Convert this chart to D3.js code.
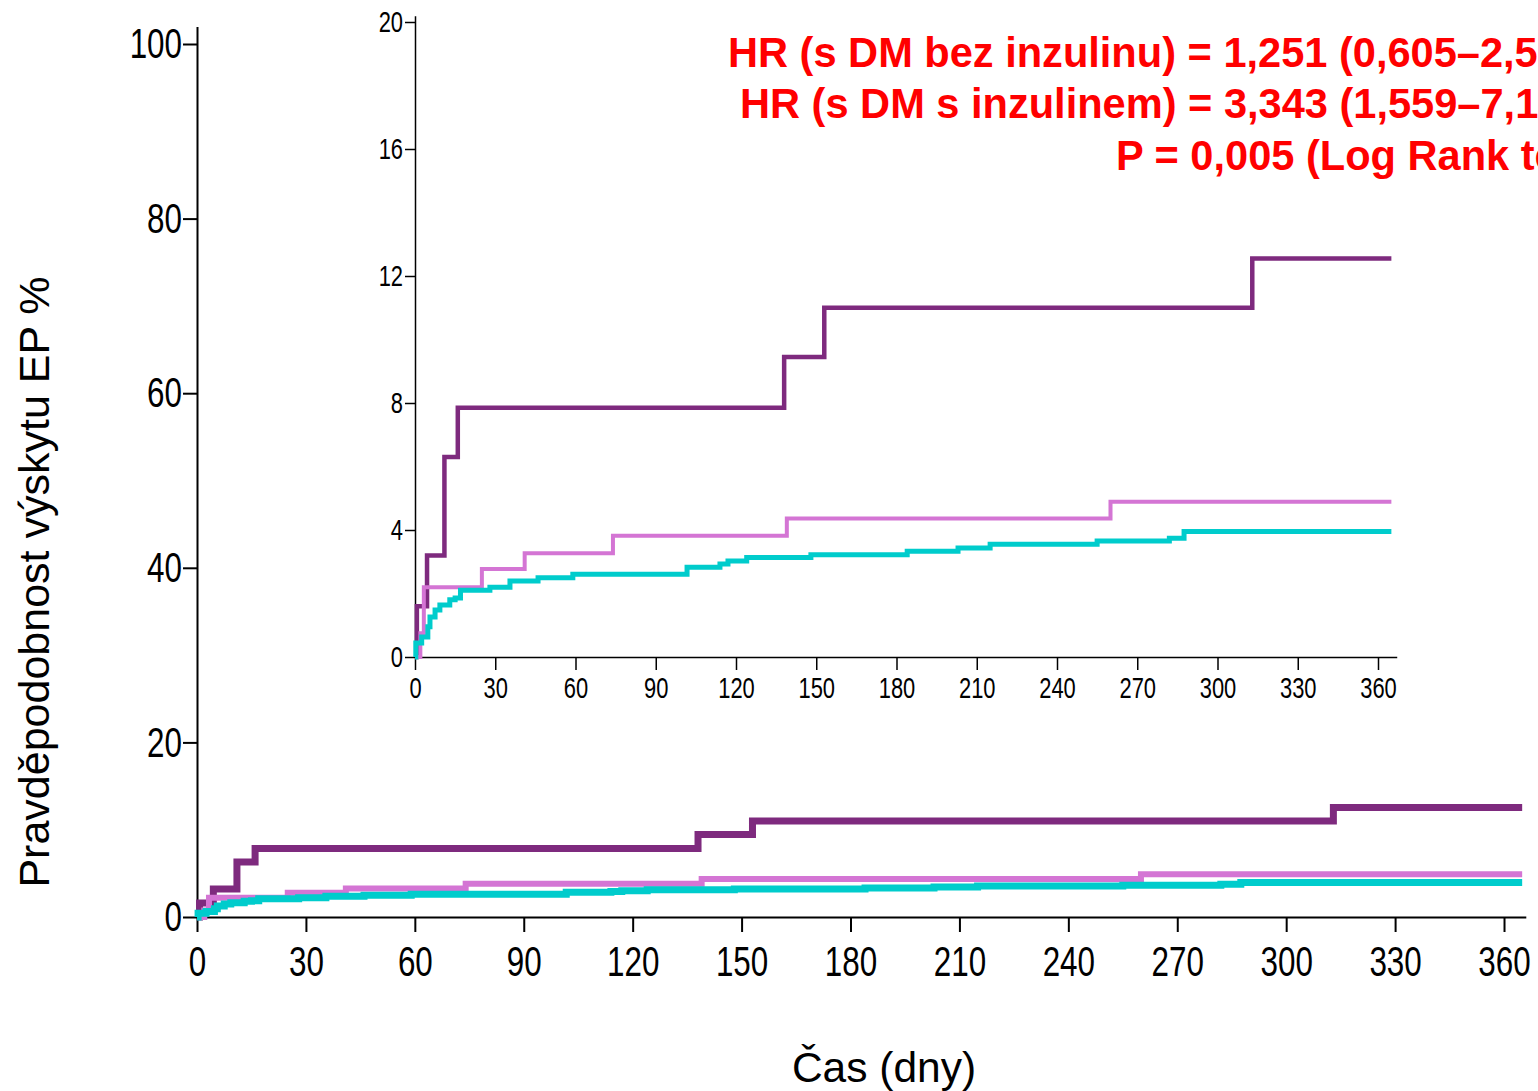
<!DOCTYPE html>
<html>
<head>
<meta charset="utf-8">
<script src="https://cdn.jsdelivr.net/npm/d3@7"></script>
<style>
  body { margin: 0; background: #fff; }
  svg { display: block; }
  text { font-family: "Liberation Sans", Arial, sans-serif; }
</style>
</head>
<body>
<div id="vis_canvas"></div>
<script>
// data (cumulative incidence in %, step after each day)
var dayTicks = [0, 30, 60, 90, 120, 150, 180, 210, 240, 270, 300, 330, 360];
var mainYTicks = [0, 20, 40, 60, 80, 100];
var insetYTicks = [0, 4, 8, 12, 16, 20];

// DM s inzulinem (dark purple)
var insDays   = [0, 0.7, 4.5, 11, 16, 138, 153, 313, 365];
var insValues = [0, 1.6, 3.2, 6.3, 7.85, 9.45, 11.0, 12.55, 12.55];

// DM bez inzulinu (pink)
var nonInsDays   = [0, 2, 3.3, 25, 41, 74, 139, 260, 365];
var nonInsValues = [0, 0.75, 2.2, 2.77, 3.27, 3.82, 4.36, 4.89, 4.89];

// bez DM (teal)
var noDmDays   = [0, 0.3, 2.5, 4.8, 5.6, 7.5, 9.3, 13, 15, 17, 28, 35.5, 46, 59, 101.7, 114, 117, 124, 148, 184, 203, 215, 255, 282, 287.5, 365];
var noDmValues = [0, 0.44, 0.63, 0.95, 1.26, 1.48, 1.64, 1.8, 1.86, 2.1, 2.2, 2.39, 2.5, 2.61, 2.83, 2.93, 3.02, 3.13, 3.22, 3.33, 3.43, 3.55, 3.65, 3.74, 3.95, 3.95];

var hrLines = [
  "HR (s DM bez inzulinu) = 1,251 (0,605\u20132,587)",
  "HR (s DM s inzulinem) = 3,343 (1,559\u20137,168)",
  "P = 0,005 (Log Rank test)"
];

function pairs(days, vals) {
  return days.map(function(d, i) { return {day: d, v: vals[i]}; });
}

var series = [
  {name: "ins", pts: pairs(insDays, insValues), color: "#7e2a7e", wMain: 7, wInset: 4.5},
  {name: "nonins", pts: pairs(nonInsDays, nonInsValues), color: "#d475d4", wMain: 6, wInset: 4},
  {name: "nodm", pts: pairs(noDmDays, noDmValues), color: "#00cccc", wMain: 7, wInset: 5}
];

// no narrow font installed -> squeeze Liberation Sans horizontally
var TICK_NARROW = 0.73;
var HR_NARROW = 0.99;

var svg = d3.select("#vis_canvas").append("svg")
  .attr("width", 1538).attr("height", 1091);

//main chart scales
var x = d3.scaleLinear().domain([0, 366]).range([197, 197 + 366 * 3.6306]);
var y = d3.scaleLinear().domain([0, 102]).range([917, 917 - 102 * 8.73]);

//inset scales
var xi = d3.scaleLinear().domain([0, 367]).range([415, 415 + 367 * 2.675]);
var yi = d3.scaleLinear().domain([0, 20.2]).range([657, 657 - 20.2 * 31.75]);

function styleAxis(g, fontSize, width, left) {
  g.attr("font-family", null);
  g.selectAll("path, line").attr("stroke", "#000").attr("stroke-width", width);
  g.selectAll("text")
    .attr("font-size", fontSize).attr("fill", "#000")
    .attr("transform", "scale(" + TICK_NARROW + ",1)");
  if (left) {
    g.selectAll("text").attr("x", function() { return +d3.select(this).attr("x") / TICK_NARROW; });
  }
}

// main axes
var gx = svg.append("g").attr("transform", "translate(0,917)")
  .call(d3.axisBottom(x).tickValues(dayTicks).tickSize(15).tickSizeOuter(0).tickPadding(13));
styleAxis(gx, 43, 2, false);

var gy = svg.append("g").attr("transform", "translate(197,0)")
  .call(d3.axisLeft(y).tickValues(mainYTicks).tickSize(14).tickSizeOuter(0).tickPadding(1));
styleAxis(gy, 43, 2, true);

// inset axes
var gxi = svg.append("g").attr("transform", "translate(0,657)")
  .call(d3.axisBottom(xi).tickValues(dayTicks).tickSize(13).tickSizeOuter(0).tickPadding(7));
styleAxis(gxi, 30, 1.5, false);

var gyi = svg.append("g").attr("transform", "translate(415,0)")
  .call(d3.axisLeft(yi).tickValues(insetYTicks).tickSize(10).tickSizeOuter(0).tickPadding(2));
styleAxis(gyi, 30, 1.5, true);

// curves
var lineMain = d3.line().curve(d3.curveStepAfter)
  .x(function(d) { return x(d.day); }).y(function(d) { return y(d.v); });
var lineInset = d3.line().curve(d3.curveStepAfter)
  .x(function(d) { return xi(d.day); }).y(function(d) { return yi(d.v); });

svg.selectAll(".kmMain").data(series).enter()
  .append("path")
  .attr("class", "kmMain")
  .attr("d", function(d) { return lineMain(d.pts); })
  .attr("fill", "none")
  .attr("stroke", function(d) { return d.color; })
  .attr("stroke-width", function(d) { return d.wMain; });

svg.selectAll(".kmInset").data(series).enter()
  .append("path")
  .attr("class", "kmInset")
  .attr("d", function(d) { return lineInset(d.pts); })
  .attr("fill", "none")
  .attr("stroke", function(d) { return d.color; })
  .attr("stroke-width", function(d) { return d.wInset; });

// HR text (runs off the right edge like the original)
var hrX = [728, 740, 1116];
var hrY = [67, 118, 170];
svg.selectAll(".hr").data(hrLines).enter()
  .append("text")
  .attr("class", "hr")
  .attr("transform", function(d, i) { return "translate(" + hrX[i] + "," + hrY[i] + ") scale(" + HR_NARROW + ",1)"; })
  .attr("font-size", 42)
  .attr("font-weight", "bold")
  .attr("fill", "#ff0000")
  .text(function(d) { return d; });

// axis titles
svg.append("text")
  .attr("x", 884).attr("y", 1082)
  .attr("text-anchor", "middle")
  .attr("font-size", 42.5)
  .text("Čas (dny)");

svg.append("text")
  .attr("transform", "translate(49,582) rotate(-90)")
  .attr("text-anchor", "middle")
  .attr("font-size", 43)
  .text("Pravděpodobnost výskytu EP %");
</script>
</body>
</html>
